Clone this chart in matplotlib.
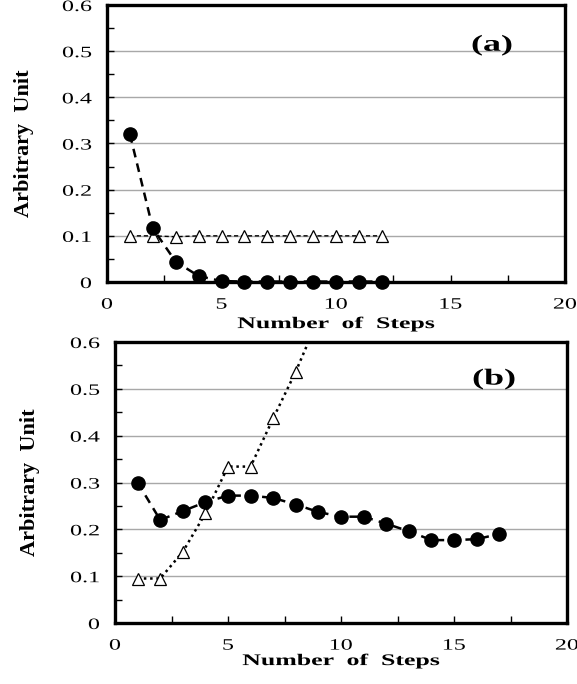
import matplotlib
matplotlib.use("Agg")
import matplotlib.pyplot as plt
from matplotlib.ticker import MultipleLocator, FuncFormatter
from matplotlib.patheffects import AbstractPathEffect
from matplotlib.transforms import Affine2D

plt.rcParams['font.family'] = ['Liberation Serif', 'DejaVu Serif']

# ---- data ----
steps_a = [1, 2, 3, 4, 5, 6, 7, 8, 9, 10, 11, 12]
circles_a = [0.32, 0.116, 0.044, 0.013, 0.002, 0.001, 0.001, 0.001, 0.001, 0.001, 0.001, 0.001]
triangles_a = [0.10, 0.10, 0.098, 0.10, 0.10, 0.10, 0.10, 0.10, 0.10, 0.10, 0.10, 0.10]

steps_b_circ = list(range(1, 18))
circles_b = [0.30, 0.22, 0.239, 0.258, 0.272, 0.272, 0.267, 0.253, 0.237, 0.227,
             0.227, 0.212, 0.196, 0.177, 0.177, 0.179, 0.19]
steps_b_tri = [1, 2, 3, 4, 5, 6, 7, 8, 9]
triangles_b = [0.095, 0.095, 0.152, 0.234, 0.334, 0.334, 0.437, 0.537, 0.65]

x_ticks = [0, 5, 10, 15, 20]
y_ticks = [0, 0.1, 0.2, 0.3, 0.4, 0.5, 0.6]
panel_labels = ['(a)', '(b)']


class HStretch(AbstractPathEffect):
    """Widen rendered glyphs horizontally (the reference text is stretched)."""
    def __init__(self, sx, anchor='center'):
        super().__init__()
        self.sx = sx
        self.anchor = anchor

    def draw_path(self, renderer, gc, tpath, affine, rgbFace=None):
        ext = tpath.get_extents(affine)
        if self.anchor == 'right':
            cx = ext.x1
        elif self.anchor == 'left':
            cx = ext.x0
        else:
            cx = 0.5 * (ext.x0 + ext.x1)
        t = affine + Affine2D().translate(-cx, 0).scale(self.sx, 1.0).translate(cx, 0)
        renderer.draw_path(gc, tpath, t, rgbFace)


fig = plt.figure(figsize=(5.77, 6.84), dpi=100)
ax1 = fig.add_axes([107/577, 1-282/684, 458/577, 277/684])
ax2 = fig.add_axes([115/577, 1-623/684, 452/577, 281/684])


def style(ax, ylab_x, xlab_y):
    ax.set_xlim(0, 20)
    ax.set_ylim(0, 0.6)
    ax.set_xticks(x_ticks)
    ax.set_yticks(y_ticks)
    ax.xaxis.set_minor_locator(MultipleLocator(2.5))
    ax.yaxis.set_minor_locator(MultipleLocator(0.05))
    ax.yaxis.set_major_formatter(FuncFormatter(lambda v, p: '0' if abs(v) < 1e-9 else f'{v:.1f}'))
    ax.xaxis.set_major_formatter(FuncFormatter(lambda v, p: f'{int(round(v))}'))
    ax.tick_params(axis='both', which='both', direction='in', length=5, width=1, colors='black',
                   labelsize=11.4, top=False, right=False)
    ax.tick_params(axis='y', which='major', pad=11)
    ax.tick_params(axis='x', which='major', pad=10.5)
    for lbl in ax.get_yticklabels():
        lbl.set_path_effects([HStretch(1.52, 'right')])
    for lbl in ax.get_xticklabels():
        lbl.set_path_effects([HStretch(1.52, 'center')])
    ax.grid(True, axis='y', which='major', color='#a8a8a8', lw=1)
    ax.set_axisbelow(True)
    for s in ax.spines.values():
        s.set_linewidth(2.4)
        s.set_color('black')
    ax.set_ylabel('Arbitrary  Unit', fontsize=16, fontweight='bold')
    xl = ax.set_xlabel('Number  of  Steps', fontsize=11.7, fontweight='bold')
    xl.set_path_effects([HStretch(1.59, 'center')])
    ax.yaxis.set_label_coords(ylab_x, 0.5)
    ax.xaxis.set_label_coords(0.5, xlab_y)


style(ax1, -0.160, -0.123)
style(ax2, -0.167, -0.107)

# panel (a)
ax1.plot(steps_a, triangles_a, color='black', lw=1, ls=(0, (3, 2)), marker='^', ms=8,
         mfc='white', mec='black', mew=0.9, zorder=3)
ax1.plot(steps_a, circles_a, color='black', lw=1.8, ls=(0, (3.5, 2.5)), marker='o', ms=9.5,
         mfc='black', mec='black', zorder=4, clip_on=False)
ta = ax1.text(16.81, 0.513, panel_labels[0], fontsize=16.5, fontweight='bold', ha='center', va='center')
ta.set_path_effects([HStretch(1.57, 'center')])

# panel (b)
ax2.plot(steps_b_tri, triangles_b, color='black', lw=1.8, ls=(0, (1, 1.5)), marker='^', ms=8,
         mfc='white', mec='black', mew=0.9, zorder=3)
ax2.plot(steps_b_circ, circles_b, color='black', lw=1.8, ls=(0, (3.5, 2.5)), marker='o', ms=9.5,
         mfc='black', mec='black', zorder=4)
tb = ax2.text(16.77, 0.521, panel_labels[1], fontsize=16.5, fontweight='bold', ha='center', va='center')
tb.set_path_effects([HStretch(1.57, 'center')])

fig.savefig('out.png', dpi=100)
